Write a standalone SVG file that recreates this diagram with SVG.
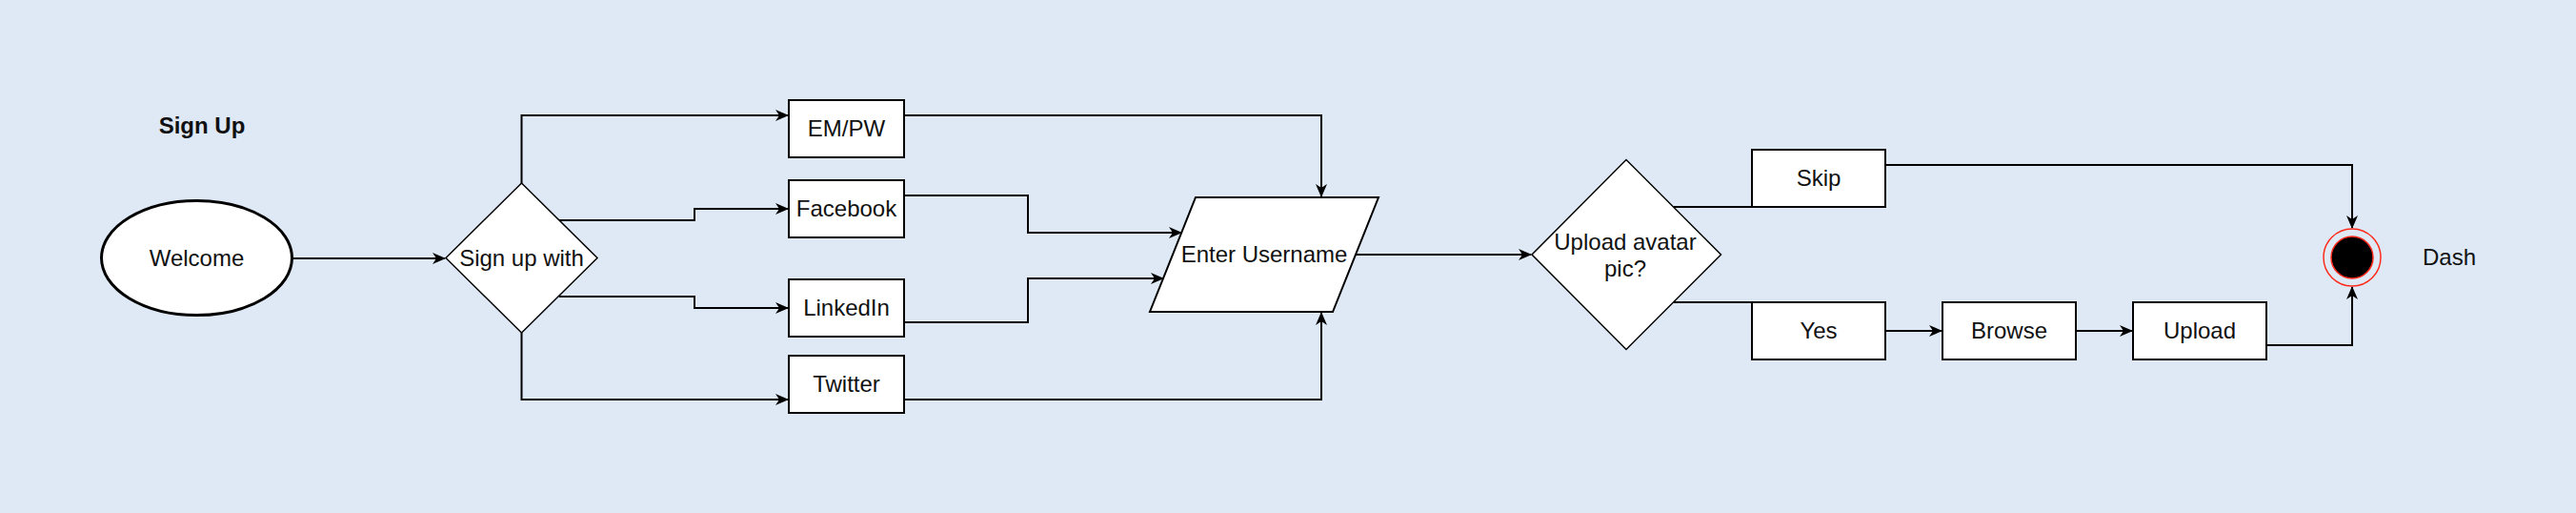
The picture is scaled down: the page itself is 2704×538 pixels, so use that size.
<svg xmlns="http://www.w3.org/2000/svg" width="2704" height="538" viewBox="0 0 2704 538">
<defs>
<style>
.bg{fill:#dfe9f6}
.shape{fill:#ffffff;stroke:#000000;stroke-width:2}
.thin{fill:#ffffff;stroke:#000000;stroke-width:1.5}
.edge{fill:none;stroke:#000000;stroke-width:2}
.arr{marker-end:url(#ah)}
text{font-family:"Liberation Sans",Arial,Helvetica,sans-serif;font-size:24px;fill:#111111;text-anchor:middle}
.title{font-weight:bold}
</style>
<marker id="ah" viewBox="0 0 14 12" refX="13" refY="6" markerWidth="14" markerHeight="12" orient="auto" markerUnits="userSpaceOnUse">
<path d="M0,0 L14,6 L0,12 L4,6 Z" fill="#000000"/>
</marker>
</defs>
<rect class="bg" x="0" y="0" width="2704" height="538"/>

<g id="connectors">
<path class="edge arr" d="M307,271 L467,271"/>
<path class="edge arr" d="M547.5,192 L547.5,121 L827,121"/>
<path class="edge arr" d="M587,231 L729,231 L729,219 L827,219"/>
<path class="edge arr" d="M587,311 L729,311 L729,323 L827,323"/>
<path class="edge arr" d="M547.5,349 L547.5,419 L827,419"/>
<path class="edge arr" d="M949,121 L1387,121 L1387,206"/>
<path class="edge arr" d="M949,205 L1079,205 L1079,244 L1240,244"/>
<path class="edge arr" d="M949,338 L1079,338 L1079,292 L1221,292"/>
<path class="edge arr" d="M949,419 L1387,419 L1387,328"/>
<path class="edge arr" d="M1423,267 L1607,267"/>
<path class="edge" d="M1757,217 L1839,217"/>
<path class="edge" d="M1757,317 L1839,317"/>
<path class="edge arr" d="M1979,173 L2469,173 L2469,239"/>
<path class="edge arr" d="M1979,347 L2038,347"/>
<path class="edge arr" d="M2179,347 L2238,347"/>
<path class="edge arr" d="M2379,362 L2469,362 L2469,301"/>
</g>

<g id="title">
<text class="title" x="212" y="140">Sign Up</text>
</g>

<g id="welcome">
<ellipse cx="206.5" cy="270.5" rx="100" ry="60" fill="#ffffff" stroke="#000000" stroke-width="3"/>
<text x="206.5" y="279">Welcome</text>
</g>

<g id="signup-with">
<polygon class="thin" points="468,270.5 547.5,192 627,270.5 547.5,349"/>
<text x="547.5" y="279">Sign up with</text>
</g>

<g id="empw">
<rect class="shape" x="828" y="105" width="121" height="60"/>
<text x="888.5" y="143">EM/PW</text>
</g>

<g id="facebook">
<rect class="shape" x="828" y="189" width="121" height="60"/>
<text x="888.5" y="227">Facebook</text>
</g>

<g id="linkedin">
<rect class="shape" x="828" y="293" width="121" height="60"/>
<text x="888.5" y="331">LinkedIn</text>
</g>

<g id="twitter">
<rect class="shape" x="828" y="373" width="121" height="60"/>
<text x="888.5" y="411">Twitter</text>
</g>

<g id="enter-username">
<polygon class="shape" points="1255,207 1447,207 1399,327 1207,327"/>
<text x="1327" y="275">Enter Username</text>
</g>

<g id="upload-avatar">
<polygon class="thin" points="1608,267 1707,167.5 1806.5,267 1707,366.5"/>
<text x="1706" y="262">Upload avatar</text>
<text x="1706" y="290">pic?</text>
</g>

<g id="skip">
<rect class="shape" x="1839" y="157" width="140" height="60"/>
<text x="1909" y="195">Skip</text>
</g>

<g id="yes">
<rect class="shape" x="1839" y="317" width="140" height="60"/>
<text x="1909" y="355">Yes</text>
</g>

<g id="browse">
<rect class="shape" x="2039" y="317" width="140" height="60"/>
<text x="2109" y="355">Browse</text>
</g>

<g id="upload">
<rect class="shape" x="2239" y="317" width="140" height="60"/>
<text x="2309" y="355">Upload</text>
</g>

<g id="end-dash">
<circle cx="2469" cy="270" r="30" fill="none" stroke="#ff2a1a" stroke-width="1.5"/>
<circle cx="2469" cy="270" r="22" fill="#000000" stroke="#ff2a1a" stroke-width="1.5"/>
<text x="2571" y="278">Dash</text>
</g>
</svg>
